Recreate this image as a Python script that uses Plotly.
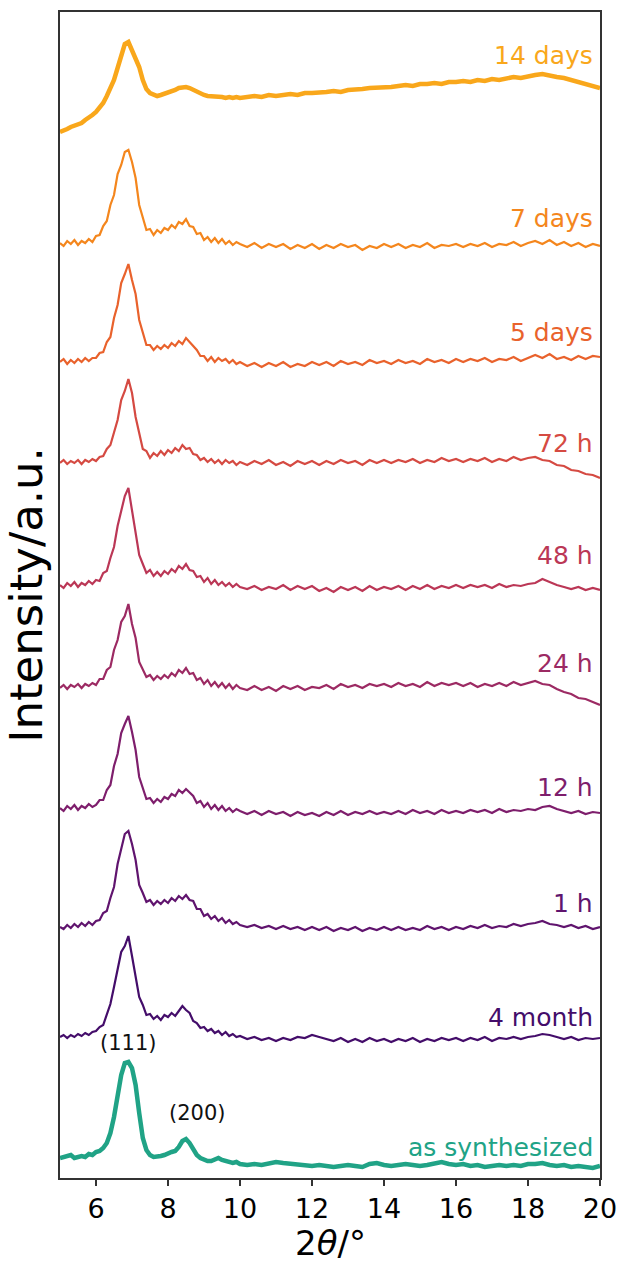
import numpy as np
import plotly.graph_objects as go

# 2-theta sampling: fine steps over the Bragg peaks, coarser over the flat tail
two_theta = np.round(np.concatenate([np.arange(5.0, 10.05, 0.1),
                                     np.arange(10.2, 20.05, 0.2)]), 2)

samples = ["as synthesized", "4 month", "1 h", "12 h", "24 h",
           "48 h", "72 h", "5 days", "7 days", "14 days"]

# vertical stacking offsets (a.u.)
offsets = [12, 138, 250, 366, 490, 590, 715, 814, 931, 1080]

# intensities above each offset (a.u.)
i_as_synth = [
    8, 9, 9, 11, 8, 9, 10, 9, 12, 11,
    14, 15, 18, 23, 33, 49, 71, 91, 103, 104,
    98, 81, 53, 28, 16, 11, 9, 9, 10, 11,
    13, 14, 15, 19, 25, 27, 23, 16, 11, 8,
    6, 5, 5, 7, 8, 6, 5, 4, 3, 4,
    2,
    1, 2, 1, 3, 4, 3, 2, 1, 1, 0,
    1, 0, -1, 0, 1, 0, -1, 2, 3, 1,
    0, 1, 2, 1, 0, 1, 3, 4, 2, 1,
    2, 0, 1, -1, 0, 1, 0, 1, 0, 2,
    2, 3, 1, 0, 1, -1, 0, -1, -2, 0,
]
i_4_month = [
    3, 5, 2, 5, 3, 6, 4, 7, 5, 8,
    9, 13, 15, 25, 36, 53, 71, 88, 94, 104,
    84, 63, 43, 35, 25, 26, 21, 24, 20, 25,
    23, 27, 24, 29, 34, 30, 27, 19, 17, 12,
    13, 9, 11, 7, 9, 5, 8, 4, 6, 3,
    4,
    1, 3, 0, 2, -1, 2, 0, 3, 2, 5,
    3, 1, -1, 2, -2, 1, -2, 2, -1, 1,
    -2, 1, -1, 2, -2, 1, -1, 2, 0, 2,
    -1, 2, 0, 3, -1, 2, 1, 3, 1, 3,
    4, 6, 5, 3, 1, 3, 0, 2, 1, 2,
]
i_1_h = [
    1, -1, 3, 0, 4, 1, 5, 2, 6, 3,
    7, 8, 15, 17, 30, 41, 64, 78, 94, 97,
    84, 68, 43, 35, 26, 28, 23, 27, 24, 28,
    25, 30, 27, 32, 29, 33, 28, 27, 19, 19,
    12, 14, 9, 12, 7, 10, 5, 8, 4, 6,
    3,
    1, 3, 0, 2, -1, 2, -1, 1, -2, 1,
    -2, 1, -3, 0, -2, 1, -3, 0, -2, 1,
    -2, 1, -2, 0, -2, 2, -1, 1, -2, 1,
    -1, 2, 0, 3, 0, 2, 1, 4, 2, 4,
    5, 7, 4, 3, 1, 3, 0, 2, -1, 1,
]
i_12_h = [
    4, 1, 6, 3, 7, 2, 6, 4, 8, 5,
    7, 12, 12, 22, 27, 46, 58, 79, 88, 96,
    80, 62, 35, 24, 13, 14, 9, 13, 10, 15,
    13, 18, 16, 22, 19, 23, 19, 16, 9, 11,
    5, 9, 3, 7, 2, 6, 1, 4, 0, 3,
    1,
    -2, 1, -3, 1, -2, 0, -4, 0, -3, -1,
    -4, 0, -3, 1, -3, 0, -2, 1, -2, 0,
    -2, 1, -2, 2, -1, 1, -2, 2, -1, 1,
    -1, 2, 0, 2, -1, 3, 0, 2, 1, 3,
    2, 5, 6, 3, 1, -1, 1, -2, 0, -1,
]
i_24_h = [
    0, 3, -1, 3, 1, 4, 0, 4, 2, 5,
    3, 9, 9, 18, 21, 38, 48, 66, 72, 84,
    64, 50, 26, 19, 11, 13, 8, 12, 9, 13,
    10, 15, 12, 18, 15, 20, 14, 15, 8, 10,
    4, 8, 2, 6, 1, 5, 0, 4, -1, 3,
    0,
    -2, 2, -2, 1, -3, 2, -1, 2, -2, 1,
    0, 3, -1, 4, 1, 3, 0, 4, 2, 4,
    1, 5, 2, 4, 1, 6, 2, 5, 3, 5,
    2, 5, 1, 4, 2, 5, 2, 6, 3, 5,
    7, 4, 3, -1, -4, -6, -10, -11, -14, -17,
]
i_48_h = [
    3, 0, 5, 2, 6, 1, 5, 3, 7, 4,
    8, 7, 15, 17, 30, 41, 62, 76, 92, 100,
    76, 57, 33, 24, 15, 18, 12, 16, 12, 17,
    14, 19, 16, 22, 19, 24, 18, 17, 11, 12,
    6, 10, 4, 8, 3, 6, 2, 5, 1, 4,
    1,
    -1, 2, -2, 1, -1, 3, -2, 2, -1, 2,
    -3, 0, -4, 1, -2, 1, -3, 2, -2, 1,
    -1, 2, -2, 2, -1, 3, -1, 2, 0, 3,
    0, 3, 1, 3, 0, 4, 1, 3, 2, 4,
    5, 9, 6, 3, 1, -1, 1, -2, 0, -2,
]
i_72_h = [
    0, 3, -1, 2, 0, 3, -1, 3, 1, 4,
    2, 6, 7, 14, 18, 32, 43, 63, 72, 84,
    70, 46, 30, 14, 12, 5, 10, 7, 12, 8,
    13, 10, 15, 12, 18, 14, 15, 9, 8, 3,
    5, 1, 4, 0, 3, -1, 3, 0, 2, -2,
    1,
    -2, 2, -1, 3, -2, 1, -3, 2, -1, 2,
    -2, 2, -1, 3, 0, 2, -2, 3, 0, 3,
    0, 3, 1, 4, 0, 3, 1, 5, 2, 4,
    1, 4, 2, 5, 1, 4, 2, 6, 3, 5,
    6, 3, 2, -2, -3, -7, -8, -11, -12, -15,
]
i_5_days = [
    2, 5, 0, 4, 1, 5, 2, 6, 3, 6,
    6, 11, 12, 22, 27, 46, 59, 81, 90, 100,
    84, 70, 44, 31, 19, 19, 14, 18, 15, 19,
    16, 21, 18, 23, 20, 26, 22, 18, 14, 8,
    8, 3, 7, 2, 6, 3, 5, 1, 4, 0,
    2,
    -2, 1, -3, 1, -2, 2, -3, 0, -2, 2,
    -1, 2, -2, 3, 0, 2, -1, 4, 1, 3,
    0, 4, 1, 3, 0, 5, 2, 4, 1, 5,
    2, 5, 3, 6, 2, 5, 4, 7, 3, 6,
    9, 6, 10, 5, 7, 4, 8, 5, 8, 7,
]
i_7_days = [
    4, 1, 6, 3, 7, 2, 6, 4, 8, 5,
    11, 12, 21, 26, 42, 52, 73, 82, 95, 97,
    85, 69, 42, 29, 17, 18, 12, 17, 14, 19,
    17, 22, 19, 25, 23, 28, 21, 20, 13, 14,
    7, 10, 5, 9, 4, 8, 3, 6, 2, 5,
    3,
    0, 4, -1, 3, 0, 3, -2, 2, -1, 3,
    -2, 2, -1, 3, 0, 2, -3, 1, -1, 3,
    0, 3, -1, 2, 0, 4, -1, 2, 1, 3,
    0, 3, 1, 4, 0, 3, 2, 5, 1, 4,
    6, 3, 7, 2, 5, 1, 4, 0, 3, 1,
]
i_14_days = [
    -34, -33, -31, -29, -28, -26, -25, -22, -20, -17,
    -14, -10, -5, 2, 10, 18, 30, 43, 54, 56,
    48, 40, 31, 18, 9, 5, 3, 2, 3, 4,
    6, 7, 8, 10, 11, 11, 10, 8, 6, 4,
    3, 2, 2, 1, 2, 1, 0, 1, 0, 1,
    0,
    1, 2, 1, 3, 2, 3, 4, 3, 5, 5,
    5, 6, 7, 6, 8, 8, 9, 10, 10, 11,
    11, 12, 13, 12, 14, 14, 15, 14, 16, 16,
    17, 16, 18, 17, 19, 18, 20, 21, 20, 22,
    23, 24, 22, 21, 20, 18, 16, 14, 12, 10,
]

intensities = [i_as_synth, i_4_month, i_1_h, i_12_h, i_24_h,
               i_48_h, i_72_h, i_5_days, i_7_days, i_14_days]

colors = ["#20a386", "#440d6a", "#60146e", "#7e1e6c", "#9c2a63",
          "#bb3756", "#d54a42", "#e9622c", "#f4861d", "#f9a71b"]
widths = [4.5, 2.2, 2.2, 2.2, 2.2, 2.2, 2.2, 2.2, 2.2, 4.5]
label_rise = [19, 23, 25, 25, 25, 33, 20, 32, 29, 43]

FONT = "DejaVu Sans"

fig = go.Figure()
for name, off, vals, col, w in zip(samples, offsets, intensities, colors, widths):
    fig.add_trace(go.Scatter(
        x=two_theta, y=np.array(vals) + off, mode="lines", name=name,
        line=dict(color=col, width=w), hoverinfo="skip"))

annotations = []
for name, off, col, rise in zip(samples, offsets, colors, label_rise):
    annotations.append(dict(
        x=19.85, y=off + rise, xref="x", yref="y", text=name,
        showarrow=False, xanchor="right", yanchor="middle",
        font=dict(family=FONT, size=25, color=col)))

# reflection indices of the as-synthesized pattern
annotations.append(dict(x=6.89, y=135, xref="x", yref="y", text="(111)",
                        showarrow=False, xanchor="center", yanchor="middle",
                        font=dict(family=FONT, size=21, color="#111111")))
annotations.append(dict(x=8.81, y=65, xref="x", yref="y", text="(200)",
                        showarrow=False, xanchor="center", yanchor="middle",
                        font=dict(family=FONT, size=21, color="#111111")))

# x-axis title, placed below the tick labels
annotations.append(dict(x=0.5, y=-0.056, xref="paper", yref="paper",
                        text="2<i>θ</i>/°", showarrow=False,
                        xanchor="center", yanchor="middle",
                        font=dict(family=FONT, size=34, color="black")))

fig.update_layout(
    width=622, height=1265,
    margin=dict(l=60, r=22, t=12, b=87, autoexpand=False),
    paper_bgcolor="white", plot_bgcolor="white",
    showlegend=False,
    annotations=annotations,
    font=dict(family=FONT, color="black"),
    xaxis=dict(
        range=[5, 20], tickvals=[6, 8, 10, 12, 14, 16, 18, 20],
        ticks="outside", ticklen=6, tickwidth=1.5, tickcolor="#333333",
        tickfont=dict(family=FONT, size=27, color="black"),
        ticklabeloverflow="allow", automargin=False,
        showline=True, linecolor="#333333", linewidth=1.5, mirror=True,
        showgrid=False, zeroline=False,
    ),
    yaxis=dict(
        range=[0, 1166], showticklabels=False, ticks="",
        automargin=False,
        showline=True, linecolor="#333333", linewidth=1.5, mirror=True,
        showgrid=False, zeroline=False,
        title=dict(text="Intensity/a.u.", font=dict(family=FONT, size=45),
                   standoff=2),
    ),
)

fig.write_html("out.html")
